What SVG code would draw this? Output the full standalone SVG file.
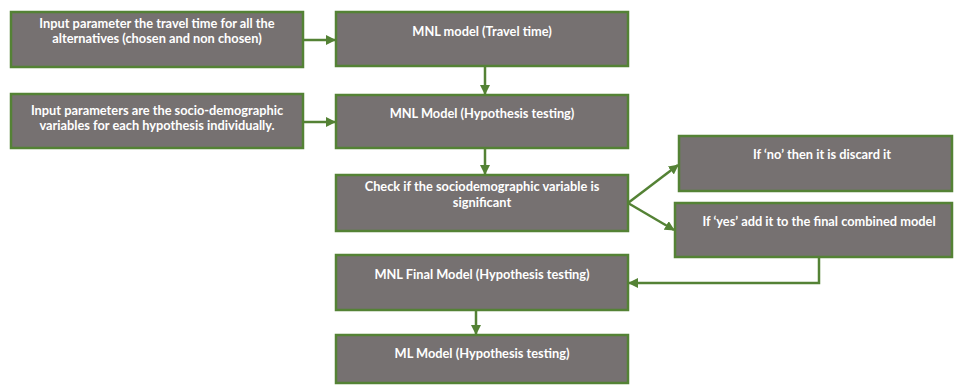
<svg xmlns="http://www.w3.org/2000/svg" width="954" height="385" viewBox="0 0 954 385">
<style>
.box{fill:#767171;stroke:#548235;stroke-width:2.5}
.t{font-family:Lato,"Open Sans","Liberation Sans",sans-serif;font-weight:bold;font-size:12.8px;fill:#ffffff;text-anchor:middle}
.c{fill:none;stroke:#548235;stroke-width:2.5}
</style>
<defs>
<marker id="ah" viewBox="0 0 10 10" refX="9" refY="5" markerWidth="4" markerHeight="4" orient="auto" markerUnits="strokeWidth">
<path d="M0,0 L10,5 L0,10 z" fill="#548235"/>
</marker>
</defs>
<rect width="954" height="385" fill="#ffffff"/>
<g id="connectors">
<line class="c" x1="303" y1="40" x2="335" y2="40" marker-end="url(#ah)"/>
<line class="c" x1="303" y1="122" x2="335" y2="122" marker-end="url(#ah)"/>
<line class="c" x1="485" y1="66" x2="485" y2="94" marker-end="url(#ah)"/>
<line class="c" x1="485" y1="148" x2="485" y2="174" marker-end="url(#ah)"/>
<line class="c" x1="628" y1="203" x2="678" y2="165" marker-end="url(#ah)"/>
<line class="c" x1="628" y1="203" x2="674" y2="230" marker-end="url(#ah)"/>
<polyline class="c" points="819,257 819,283 629,283" marker-end="url(#ah)"/>
<line class="c" x1="476" y1="310" x2="476" y2="334" marker-end="url(#ah)"/>
</g>
<g id="n1">
<rect class="box" x="11" y="12" width="292" height="55"/>
<text class="t" x="157" y="28">Input parameter the travel time for all the</text>
<text class="t" x="157" y="43">alternatives (chosen and non chosen)</text>
</g>
<g id="n2">
<rect class="box" x="11" y="94" width="292" height="54"/>
<text class="t" x="157" y="115">Input parameters are the socio-demographic</text>
<text class="t" x="157" y="130">variables for each hypothesis individually.</text>
</g>
<g id="n3">
<rect class="box" x="336" y="12" width="292" height="54"/>
<text class="t" x="482" y="36">MNL model (Travel time)</text>
</g>
<g id="n4">
<rect class="box" x="336" y="95" width="292" height="53"/>
<text class="t" x="482" y="118">MNL Model (Hypothesis testing)</text>
</g>
<g id="n5">
<rect class="box" x="336" y="175" width="292" height="56"/>
<text class="t" x="482" y="191">Check if the sociodemographic variable is</text>
<text class="t" x="482" y="207">significant</text>
</g>
<g id="n6">
<rect class="box" x="336" y="255" width="292" height="55"/>
<text class="t" x="482" y="279">MNL Final Model (Hypothesis testing)</text>
</g>
<g id="n7">
<rect class="box" x="336" y="335" width="292" height="48"/>
<text class="t" x="482" y="358">ML Model (Hypothesis testing)</text>
</g>
<g id="n8">
<rect class="box" x="679" y="136" width="273" height="55"/>
<text class="t" x="822" y="159">If ‘no’ then it is discard it</text>
</g>
<g id="n9">
<rect class="box" x="675" y="203" width="277" height="54"/>
<text class="t" x="819" y="226">If ‘yes’ add it to the final combined model</text>
</g>
</svg>
